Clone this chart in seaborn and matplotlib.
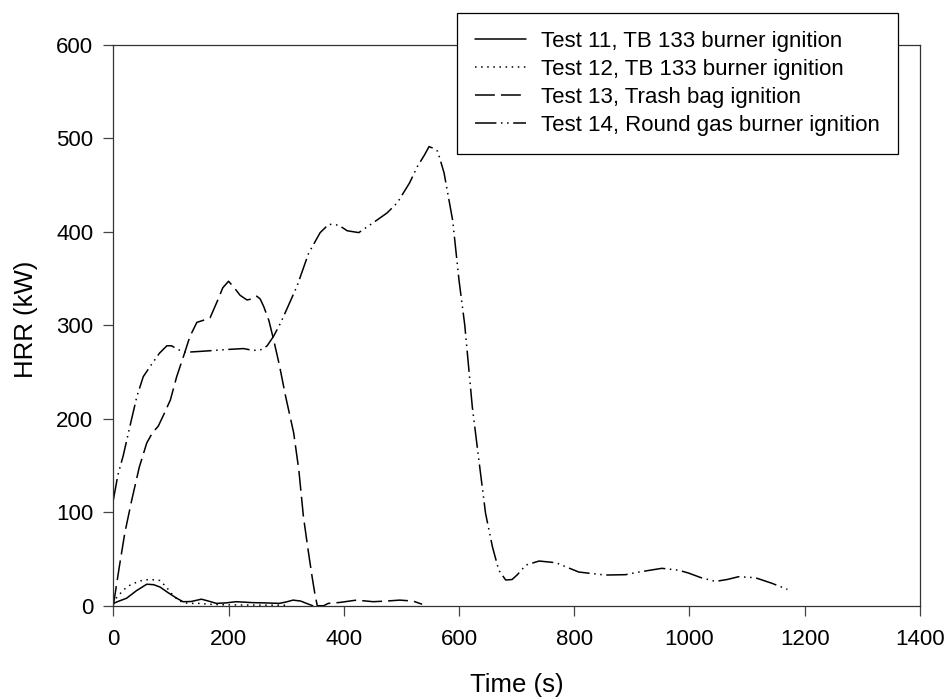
import matplotlib
matplotlib.use("Agg")
import matplotlib.pyplot as plt
import seaborn as sns
import pandas as pd

# ---- data ----
t11 = [0, 10, 23, 40, 58, 70, 81, 95, 110, 121, 135, 153, 165, 179, 195, 213, 242, 265, 288, 300, 312, 325, 332, 346]
v11 = [2.5, 5, 8, 16, 23, 22.5, 20, 14, 8, 4.3, 4.5, 7, 5, 2.5, 3, 4.3, 3.3, 3, 2.5, 4, 6, 5, 3.3, 0]

t12 = [0, 5, 12, 20, 29, 40, 52, 65, 81, 92, 105, 121, 135, 150, 167, 190, 220, 260, 300]
v12 = [2, 8, 13, 18, 22, 25, 27.5, 28, 27, 20, 10, 3, 2.5, 2.5, 1.5, 1, 0.8, 0.6, 0.5]

t13 = [0, 10, 20, 32, 45, 58, 68, 78, 88, 99, 110, 122, 133, 145, 155, 168, 180, 190, 200, 210,
       220, 232, 240, 249, 255, 261, 270, 278, 288, 299, 313, 322, 330, 338, 345, 350, 354, 365,
       373, 393, 422, 451, 474, 497, 520, 536]
v13 = [0, 40, 78, 113, 148, 174, 185, 192, 205, 220, 245, 267, 288, 303, 305, 308, 325, 340, 347, 340,
       332, 327, 328, 331, 328, 320, 305, 285, 258, 224, 185, 145, 95, 60, 31, 12, 0, 0,
       2.5, 3.5, 6, 4.3, 5, 6, 5, 1.6]

t14 = [0, 8, 17, 30, 41, 52, 64, 80, 93, 101, 112, 125, 151, 175, 197, 226, 243, 258, 267, 278,
       290, 301, 319, 339, 359, 374, 391, 406, 426, 452, 475, 493, 514, 528, 540, 548, 556, 563,
       574, 589, 600, 610, 623, 635, 646, 658, 669, 681, 692, 701, 716, 739, 768, 808, 854, 889,
       912, 952, 981, 998, 1020, 1045, 1065, 1085, 1114, 1143, 1170]
v14 = [113, 140, 160, 195, 224, 245, 256, 270, 278, 278, 274, 271, 272, 273, 274, 275, 273, 274, 278, 288,
       302, 317, 342, 377, 399, 408, 407, 401, 399, 410, 420, 431, 452, 470, 482, 491, 489, 486,
       463, 412, 348, 300, 213, 153, 99, 63, 38, 27.5, 28, 33, 43.5, 47.8, 46, 36, 32.8, 33.2,
       36, 40, 38, 35, 30, 26, 28, 31, 30, 24, 17.5]

labels = ["Test 11, TB 133 burner ignition",
          "Test 12, TB 133 burner ignition",
          "Test 13, Trash bag ignition",
          "Test 14, Round gas burner ignition"]
x_ticks = [0, 200, 400, 600, 800, 1000, 1200, 1400]
y_ticks = [0, 100, 200, 300, 400, 500, 600]

# ---- styling ----
sns.set_theme(style="white")
plt.rcParams["font.family"] = ["Liberation Sans", "DejaVu Sans"]
plt.rcParams["text.color"] = "black"
plt.rcParams["axes.labelcolor"] = "black"
plt.rcParams["xtick.color"] = "black"
plt.rcParams["ytick.color"] = "black"

fig = plt.figure(figsize=(9.49, 6.98), dpi=100)
ax = fig.add_axes([0.1194, 0.1322, 0.85, 0.8038])

series = [(t11, v11, "-"),
          (t12, v12, (0, (1, 3))),
          (t13, v13, (0, (13, 4))),
          (t14, v14, (0, (14, 3, 1, 3, 1, 3)))]

for (t, v, ls), lab in zip(series, labels):
    df = pd.DataFrame({"t": t, "v": v})
    sns.lineplot(data=df, x="t", y="v", ax=ax, color="black", linewidth=1.1,
                 linestyle=ls, sort=False, estimator=None, label=lab, legend=False)

ax.set_xlim(0, 1400)
ax.set_ylim(0, 600)
ax.set_xticks(x_ticks)
ax.set_yticks(y_ticks)
ax.tick_params(axis="both", which="major", direction="out", length=7, width=0.9,
               color="#444444", labelcolor="black", labelsize=16,
               bottom=True, left=True, top=False, right=False)
ax.tick_params(axis="x", pad=9.5)
ax.tick_params(axis="y", pad=7.5)
for s in ax.spines.values():
    s.set_color("#333333")
    s.set_linewidth(0.9)

ax.set_xlabel("Time (s)", fontsize=18.5)
ax.set_ylabel("HRR (kW)", fontsize=18.5)
ax.xaxis.set_label_coords(0.5, -0.12)
ax.yaxis.set_label_coords(-0.093, 0.51)

handles = ax.get_lines()
leg = ax.legend(handles=handles, labels=labels, loc="upper right",
                bbox_to_anchor=(0.9463, 0.9814), bbox_transform=fig.transFigure,
                fontsize=16, frameon=True, fancybox=False, shadow=False,
                framealpha=1, edgecolor="black", borderpad=0.8, labelspacing=0.32,
                handlelength=2.3, handletextpad=0.7, borderaxespad=0)
leg.get_frame().set_linewidth(0.9)

fig.savefig("out.png", dpi=100, facecolor="white")
